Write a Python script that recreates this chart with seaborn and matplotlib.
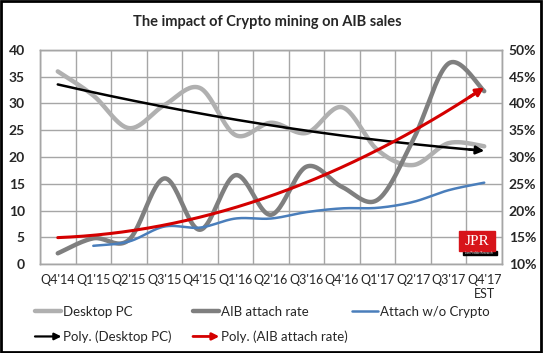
import numpy as np
import matplotlib
matplotlib.use('Agg')
import matplotlib.pyplot as plt
import seaborn as sns
from matplotlib.patches import Rectangle, FancyArrowPatch
from matplotlib.legend_handler import HandlerBase
from matplotlib.lines import Line2D

quarters = ["Q4'14", "Q1'15", "Q2'15", "Q3'15", "Q4'15", "Q1'16", "Q2'16",
            "Q3'16", "Q4'16", "Q1'17", "Q2'17", "Q3'17", "Q4'17\nEST"]
desktop_pc = [36, 31.5, 25.4, 29.7, 32.9, 24.1, 26.4, 24.5, 29.3, 21.3, 18.5, 22.6, 22]
aib_attach = [12, 14.8, 14.5, 26, 16.4, 26.6, 19.2, 28.2, 24.4, 22, 33.2, 47.5, 42.3]
attach_no_crypto = [13.4, 14.2, 17, 16.8, 18.5, 18.5, 19.7, 20.4, 20.5, 21.6, 23.8, 25.2]

sns.set_theme(style='white')
plt.rcParams['font.family'] = ['Lato', 'DejaVu Sans']

C_DESK = '#b0b0b0'
C_AIB = '#7f7f7f'
C_BLUE = '#4a7ebb'
C_RED = '#d40000'


def smooth(x, y, n=24):
    # Excel style smoothed line (bezier through points)
    pts = np.column_stack([x, y]).astype(float)
    P = np.vstack([pts[0], pts, pts[-1]])
    t = np.linspace(0, 1, n, endpoint=False)[:, None]
    segs = []
    for i in range(1, len(P) - 2):
        p0, p1, p2, p3 = P[i - 1], P[i], P[i + 1], P[i + 2]
        c1 = p1 + (p2 - p0) / 6
        c2 = p2 - (p3 - p1) / 6
        segs.append((1 - t) ** 3 * p1 + 3 * (1 - t) ** 2 * t * c1 + 3 * (1 - t) * t ** 2 * c2 + t ** 3 * p2)
    segs.append(pts[-1:])
    s = np.vstack(segs)
    return s[:, 0], s[:, 1]


fig = plt.figure(figsize=(5.43, 3.53), dpi=100)
ax = fig.add_axes([40 / 543, 1 - 264 / 353, 462 / 543, 214 / 353])
ax2 = ax.twinx()

x = np.arange(len(quarters))

# desktop pc on left axis
sx, sy = smooth(x, desktop_pc)
sns.lineplot(x=sx, y=sy, ax=ax, color=C_DESK, lw=3.2, sort=False, estimator=None,
             solid_capstyle='round')
# poly trend desktop
xf = np.linspace(0, 12, 200)
fd = np.polyval(np.polyfit(x, desktop_pc, 2), xf)
sns.lineplot(x=xf[:-3], y=fd[:-3], ax=ax, color='black', lw=1.8, sort=False, estimator=None)
ax.annotate('', xy=(xf[-1], fd[-1]), xytext=(xf[-8], fd[-8]),
            arrowprops=dict(arrowstyle='-|>', color='black', lw=1.8, mutation_scale=12, shrinkA=0, shrinkB=0))

# aib attach on right axis
sx, sy = smooth(x, aib_attach)
sns.lineplot(x=sx, y=sy, ax=ax2, color=C_AIB, lw=3.2, sort=False, estimator=None,
             solid_capstyle='round')
x2 = x[1:]
sx, sy = smooth(x2, attach_no_crypto)
sns.lineplot(x=sx, y=sy, ax=ax2, color=C_BLUE, lw=1.8, sort=False, estimator=None)
fa = np.polyval(np.polyfit(x, aib_attach, 2), xf)
sns.lineplot(x=xf[:-3], y=fa[:-3], ax=ax2, color=C_RED, lw=2.2, sort=False, estimator=None)
ax2.annotate('', xy=(xf[-1], fa[-1]), xytext=(xf[-8], fa[-8]),
             arrowprops=dict(arrowstyle='-|>', color=C_RED, lw=2.2, mutation_scale=12, shrinkA=0, shrinkB=0))

ax.set_xlim(-0.5, 12.5)
ax.set_ylim(0, 40)
ax2.set_ylim(10, 50)
ax.set_yticks(np.arange(0, 41, 5))
ax2.set_yticks(np.arange(10, 51, 5))
ax2.set_yticklabels([f'{v}%' for v in range(10, 51, 5)])
ax.set_xticks(x)
ax.set_xticklabels(quarters, fontsize=9)
ax.set_xticks(np.arange(-0.5, 13), minor=True)
ax.grid(True, which='minor', axis='x', color='#a6a6a6', lw=1)
ax.grid(True, which='major', axis='y', color='#a6a6a6', lw=1)
ax.grid(False, which='major', axis='x')
ax2.grid(False)
ax.tick_params(axis='x', which='both', length=0, pad=7)
ax.tick_params(axis='y', length=0, pad=11, labelsize=10)
ax2.tick_params(axis='y', length=0, pad=5, labelsize=10)
for lab in ax.get_yticklabels() + ax2.get_yticklabels():
    lab.set_fontweight('bold')
for a in (ax, ax2):
    for sp in a.spines.values():
        sp.set_color('#a6a6a6')
        sp.set_linewidth(1)
ax.set_ylabel('')
ax2.set_ylabel('')

fig.text(0.493, 1 - 22 / 353, 'The impact of Crypto mining on AIB sales', ha='center', va='center',
         fontsize=10.5, fontweight='bold')

# JPR logo
ax.add_patch(Rectangle((0.915, 0.042), 0.074, 0.02, transform=ax.transAxes, color='black', zorder=5))
ax.add_patch(Rectangle((0.908, 0.062), 0.076, 0.09, transform=ax.transAxes, color='#d7141a', zorder=5))
ax.text(0.946, 0.107, 'JPR', transform=ax.transAxes, ha='center', va='center', color='white',
        fontsize=11, family='Liberation Serif', zorder=6)
ax.text(0.95, 0.052, 'Jon Peddie Research', transform=ax.transAxes, ha='center', va='center',
        color='white', fontsize=2.2, zorder=6)


class ArrowHandler(HandlerBase):
    def create_artists(self, legend, orig_handle, xdescent, ydescent, width, height, fontsize, trans):
        y = height / 2 - ydescent
        a = FancyArrowPatch((-xdescent, y), (width - xdescent, y), arrowstyle='-|>',
                            mutation_scale=10, color=orig_handle.get_color(),
                            lw=orig_handle.get_linewidth(), shrinkA=0, shrinkB=0)
        a.set_transform(trans)
        return [a]


h_desk = Line2D([], [], color=C_DESK, lw=3.2)
h_aib = Line2D([], [], color=C_AIB, lw=3.2)
h_blue = Line2D([], [], color=C_BLUE, lw=1.8)
h_pd = Line2D([], [], color='black', lw=1.6)
h_pa = Line2D([], [], color=C_RED, lw=2.0)

common = dict(frameon=False, fontsize=9.5, handlelength=2.0, handletextpad=0.1,
              labelspacing=0.95, borderpad=0, borderaxespad=0, loc='upper left',
              handler_map={h_pd: ArrowHandler(), h_pa: ArrowHandler()})
top = 1 - 306 / 353
fig.legend([h_desk, h_pd], ['Desktop PC', 'Poly. (Desktop PC)'],
           bbox_to_anchor=(35 / 543, top), **common)
fig.legend([h_aib, h_pa], ['AIB attach rate', 'Poly. (AIB attach rate)'],
           bbox_to_anchor=(193 / 543, top), **common)
fig.legend([h_blue], ['Attach w/o Crypto'],
           bbox_to_anchor=(352 / 543, top), **common)

fig.patches.append(Rectangle((0.002, 0.003), 0.994, 0.994, transform=fig.transFigure, fill=False,
                             ec='black', lw=2))

fig.savefig('out.png', dpi=100)
